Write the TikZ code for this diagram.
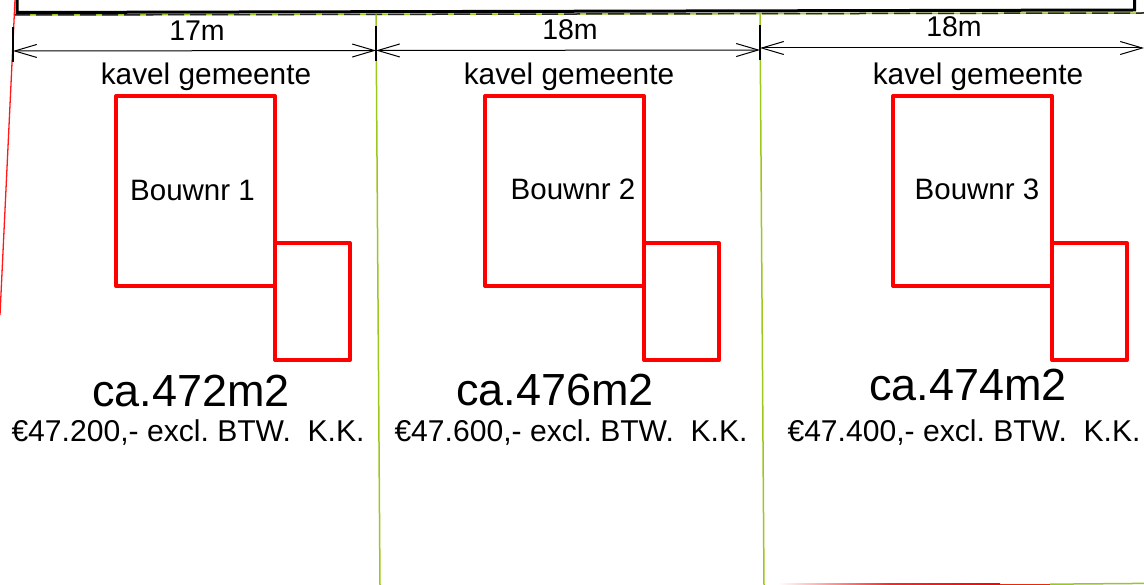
\documentclass[tikz,border=0pt]{standalone}
\usepackage{fontspec}
\setmainfont{Liberation Sans}
\usetikzlibrary{arrows.meta}
\definecolor{lotgreen}{HTML}{9CC81E}
\frenchspacing
\tikzset{
  x=1pt,y=-1pt,
  building/.style={draw=red,line width=4pt,line join=round,line cap=round},
  dimline/.style={draw=black,line width=1pt,{Straight Barb[length=22pt,width=13pt,line width=1pt]}-{Straight Barb[length=22pt,width=13pt,line width=1pt]}},
  tick/.style={draw=black,line width=1.3pt},
  lotline/.style={draw=lotgreen,line width=1.5pt},
  redlot/.style={draw=red!90!white,line width=1.3pt},
  lbl/.style={inner sep=0pt,anchor=center,text=black,font=\fontsize{29.8}{32}\selectfont},
  bnr/.style={lbl,font=\fontsize{29.5}{32}\selectfont},
  lbldim/.style={lbl,font=\fontsize{28.5}{32}\selectfont},
  area/.style={lbl,font=\fontsize{45}{48}\selectfont},
  price/.style={lbl,font=\fontsize{30.1}{32}\selectfont},
}
\begin{document}
\begin{tikzpicture}
\useasboundingbox[fill=white] (0,0) rectangle (1144,585);
% top building outline and boundary
\draw[black,line width=3pt] (17,0) -- (17,12.5) -- (1134.5,10) -- (1134.5,0);
\draw[lotgreen,line width=1.5pt] (14,15) -- (1144,13);
\draw[black!85,line width=1.5pt,dash pattern=on 16pt off 6pt] (14,15) -- (1144,13);
% lot boundaries
\draw[redlot] (15,0) -- (0,315);
\draw[lotline] (376,14.5) -- (380,585);
\draw[lotline] (760,14) -- (764,585);
\shade[left color=white,right color=red,middle color=red!85] (778,583.6) rectangle (1000,585);
\fill[red!80!lotgreen] (1000,583.6) rectangle (1050,585);
\draw[lotline] (1050,584.2) -- (1144,583.4);
% dimension coordinates
\coordinate (d0) at (13,51);
\coordinate (d1) at (376,50.5);
\coordinate (d2) at (760,50);
\coordinate (e2) at (760,48);
\coordinate (e3) at (1144,48);
\draw[tick] (13,27) -- (13,62);
\draw[tick] (376,26) -- (376,61);
\draw[tick] (760,25) -- (760,60);
\draw[dimline] (d0) -- (d1);
\draw[dimline] (d1) -- (d2);
\draw[dimline] (e2) -- (e3);
% buildings
\draw[building] (116,96) rectangle (275,286);
\draw[building] (275,243) rectangle (350,360);
\draw[building] (485,96) rectangle (644,286);
\draw[building] (644,243) rectangle (719,360);
\draw[building] (893,96) rectangle (1052,286);
\draw[building] (1052,243) rectangle (1127,360);
% labels
\node[lbldim] (w1) at (197,31) {17m};
\node[lbldim] (w2) at (570,30) {18m};
\node[lbldim] (w3) at (954,27) {18m};
\node[lbl] (k1) at (206,77) {kavel gemeente};
\node[lbl] (k2) at (569,77) {kavel gemeente};
\node[lbl] (k3) at (978,77) {kavel gemeente};
\node[bnr] (b1) at (192.5,190) {Bouwnr 1};
\node[bnr] (b2) at (573,189) {Bouwnr 2};
\node[bnr] (b3) at (977,189) {Bouwnr 3};
\node[area] (a1) at (191,391) {ca.472m2};
\node[area] (a2) at (555,390) {ca.476m2};
\node[area] (a3) at (968,385) {ca.474m2};
\node[price] (p1) at (188,433) {€47.200,- excl. BTW.\ \ K.K.};
\node[price] (p2) at (571,433) {€47.600,- excl. BTW.\ \ K.K.};
\node[price] (p3) at (964,433) {€47.400,- excl. BTW.\ \ K.K.};
\end{tikzpicture}
\end{document}
